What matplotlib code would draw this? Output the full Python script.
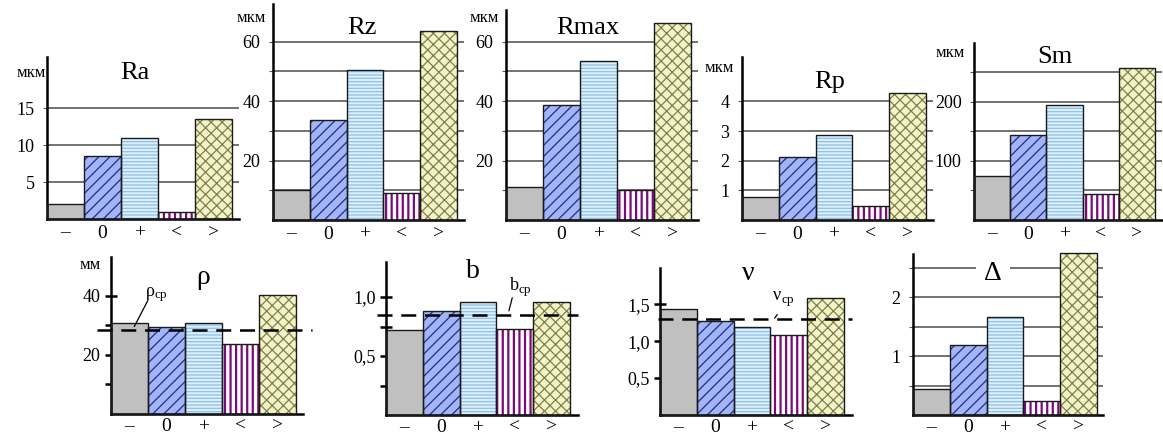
import matplotlib
matplotlib.use("Agg")
import matplotlib.pyplot as plt
from matplotlib.ticker import FixedLocator, FuncFormatter

plt.rcParams['font.family'] = ['Liberation Serif', 'DejaVu Serif']

W, H = 1163, 438

categories = ['–', '0', '+', '<', '>']

ra = [2.0, 8.5, 11.0, 1.0, 13.5]
rz = [10.0, 33.7, 50.5, 9.0, 63.6]
rmax = [11.1, 38.7, 53.6, 10.1, 66.3]
rp = [0.77, 2.12, 2.87, 0.48, 4.3]
sm = [74, 144, 194, 44, 256]
rho = [30.8, 29.5, 30.8, 23.7, 40.3]
b_vals = [0.72, 0.88, 0.96, 0.73, 0.96]
nu = [1.43, 1.27, 1.19, 1.08, 1.58]
delta = [0.44, 1.19, 1.66, 0.24, 2.75]

rho_mean = 28.5
b_mean = 0.85
nu_mean = 1.30

styles = [
    ('#c0c0c0', None, '#c0c0c0'),
    ('#a3b5f3', '///', '#1b2b9c'),
    ('#dcefff', '-----', '#8fc0e6'),
    ('#ffffff', '|||', '#7a0a7a'),
    ('#f3f3c9', 'xxx', '#7f8047'),
]

fig = plt.figure(figsize=(W / 100, H / 100), dpi=100)


def ptext(px, py, s, **kw):
    kw.setdefault('ha', 'center')
    kw.setdefault('va', 'center')
    return fig.text(px / W, 1 - py / H, s, **kw)


def make_ax(L, bars_end, B, T, ytop, xr=4.7):
    bw = (bars_end - L) / 5
    R = L + (xr + 0.5) * bw
    ax = fig.add_axes([L / W, 1 - B / H, (R - L) / W, (B - T) / H])
    ax.set_xlim(-0.5, xr)
    ax.set_ylim(0, ytop)
    for s in ('top', 'right'):
        ax.spines[s].set_visible(False)
    for s in ('left', 'bottom'):
        ax.spines[s].set_linewidth(1.8)
        ax.spines[s].set_color('black')
    ax.patch.set_alpha(0)
    return ax


def draw_bars(ax, vals):
    xs = range(len(vals))
    for i, v in enumerate(vals):
        face, hatch, hc = styles[i]
        hl = 1.6 if hatch == '|||' else 0.9
        with plt.rc_context({'hatch.linewidth': hl}):
            p = ax.bar(i, v, width=1.0, color=face, hatch=hatch, edgecolor=hc,
                       linewidth=0, zorder=2, clip_on=False)
        for patch in p:
            if hasattr(patch, 'set_hatch_linewidth'):
                patch.set_hatch_linewidth(hl)
    ax.bar(list(xs), vals, width=1.0, fill=False, edgecolor='#1a1a1a',
           linewidth=1.0, zorder=3, clip_on=False)
    ax.set_xticks(list(xs))
    ax.set_xticklabels(categories, fontsize=14)


def grid_ticks(ax, ticks, labelled, fmt=lambda v: f'{v:g}', pad=6):
    ax.yaxis.set_major_locator(FixedLocator(ticks))
    ax.yaxis.set_major_formatter(FuncFormatter(
        lambda v, p: fmt(v) if any(abs(v - l) < 1e-9 for l in labelled) else ''))
    ax.yaxis.grid(True, color='#5a5a5a', linewidth=1.2, zorder=0)
    ax.set_axisbelow(True)
    ax.tick_params(axis='y', length=3, color='#5a5a5a', labelsize=13, pad=pad)
    ax.tick_params(axis='x', length=0, pad=4)


def plain_ticks(ax, ticks, labelled, fmt):
    ax.yaxis.set_major_locator(FixedLocator(ticks))
    ax.yaxis.set_major_formatter(FuncFormatter(
        lambda v, p: fmt(v) if any(abs(v - l) < 1e-9 for l in labelled) else ''))
    ax.tick_params(axis='y', direction='inout', length=9, width=1.8,
                   labelsize=13, pad=3)
    ax.tick_params(axis='x', length=0, pad=3)


comma = lambda v: f'{v:.1f}'.replace('.', ',')

# ---- top row ----
ax = make_ax(47, 232, 219, 57, 21.9)
draw_bars(ax, ra)
grid_ticks(ax, [5, 10, 15], [5, 10, 15])
ptext(135, 73, 'Ra', fontsize=19)
ptext(31, 73, 'мкм', fontsize=12)

ax = make_ax(273, 457, 220, 4, 72.7)
draw_bars(ax, rz)
grid_ticks(ax, [10, 20, 30, 40, 50, 60], [20, 40, 60])
ptext(362, 28, 'Rz', fontsize=19)
ptext(251, 18, 'мкм', fontsize=12)

ax = make_ax(506, 691, 220, 10, 70.7)
draw_bars(ax, rmax)
grid_ticks(ax, [10, 20, 30, 40, 50, 60], [20, 40, 60])
ptext(588, 28, 'Rmax', fontsize=19)
ptext(484, 18, 'мкм', fontsize=12)

ax = make_ax(742, 926, 220, 57, 5.5)
draw_bars(ax, rp)
grid_ticks(ax, [1, 2, 3, 4], [1, 2, 3, 4])
ptext(830, 82, 'Rp', fontsize=19)
ptext(719, 68, 'мкм', fontsize=12)

ax = make_ax(974, 1155, 220, 43, 299)
draw_bars(ax, sm)
grid_ticks(ax, [50, 100, 150, 200, 250], [100, 200])
ptext(1055, 57, 'Sm', fontsize=19)
ptext(950, 53, 'мкм', fontsize=12)

# ---- bottom row ----
dash = dict(color='black', linewidth=1.8, linestyle=(0, (6, 3.5)), zorder=4,
            clip_on=False)
leader = dict(arrowstyle='-', color='black', linewidth=0.9)

ax = make_ax(111, 296, 414, 257, 53.2, xr=4.69)
draw_bars(ax, rho)
plain_ticks(ax, [10, 20, 30, 40], [20, 40], lambda v: f'{v:g}')
ax.plot([-0.88, 4.93], [rho_mean, rho_mean], **dash)
ax.annotate('', xy=(0.095, rho_mean + 0.3), xytext=(0.53, 39.3),
            arrowprops=leader, annotation_clip=False)
ptext(150, 291, 'ρ', fontsize=13)
ptext(161, 295, 'ср', fontsize=9.5)
ptext(203, 277, 'ρ', fontsize=20)
ptext(90, 265, 'мм', fontsize=12)

ax = make_ax(386, 570, 415, 262, 1.297, xr=4.72)
draw_bars(ax, b_vals)
plain_ticks(ax, [0.25, 0.5, 0.75, 1.0], [0.5, 1.0], comma)
ax.plot([-0.74, 4.72], [b_mean, b_mean], **dash)
ax.annotate('', xy=(2.82, b_mean + 0.01), xytext=(2.95, 1.017),
            arrowprops=leader, annotation_clip=False)
ptext(514, 285, 'b', fontsize=13)
ptext(525, 290, 'ср', fontsize=9.5)
ptext(473, 272, 'b', fontsize=20)

ax = make_ax(660, 844, 415, 268, 1.99, xr=4.72)
draw_bars(ax, nu)
plain_ticks(ax, [0.5, 1.0, 1.5], [0.5, 1.0, 1.5], comma)
ax.plot([-0.55, 4.72], [nu_mean, nu_mean], **dash)
ax.annotate('', xy=(2.57, nu_mean - 0.02), xytext=(2.73, 1.39),
            arrowprops=leader, annotation_clip=False)
ptext(777, 295, 'ν', fontsize=13)
ptext(788, 300, 'ср', fontsize=9.5)
ptext(748, 273, 'ν', fontsize=20)

ax = make_ax(913, 1097, 415, 254, 2.74, xr=4.65)
draw_bars(ax, delta)
grid_ticks(ax, [0.5, 1.0, 1.5, 2.0, 2.5], [1.0, 2.0], pad=6)
ax.tick_params(axis='x', pad=3)
ptext(993, 273, 'Δ', fontsize=20,
      bbox=dict(facecolor='white', edgecolor='none', pad=6), zorder=5)

fig.savefig('out.png', dpi=100)
